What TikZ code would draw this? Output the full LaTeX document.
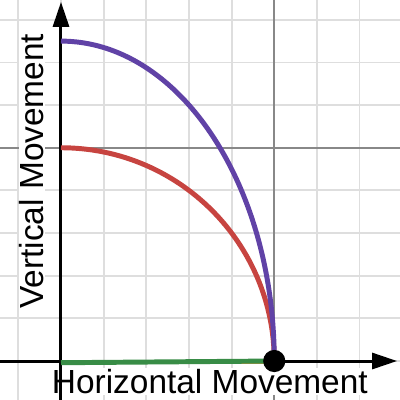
\documentclass[tikz,border=0pt]{standalone}
\usepackage{fontspec}
\setmainfont{Liberation Sans}
\usetikzlibrary{arrows.meta, positioning}
\definecolor{GridGray}{RGB}{222, 222, 222}
\definecolor{MajorGray}{RGB}{136, 136, 136}
\definecolor{CurvePurple}{RGB}{96, 66, 166}
\definecolor{CurveRed}{RGB}{199, 68, 64}
\definecolor{LineGreen}{RGB}{56, 140, 70}
\definecolor{LineOrange}{RGB}{240, 150, 60}

\begin{document}
\begin{tikzpicture}[
        x=1cm, y=1cm,
        minorgrid/.style={GridGray, line width=1.2pt},
        majorgrid/.style={MajorGray, line width=1.2pt},
        axis/.style={line width=2pt, -{Triangle[length=16.6pt, width=10.6pt]}},
        curve/.style={line width=3.3pt},
        axislbl/.style={font=\fontsize{22.3}{26}\selectfont, fill=white, inner sep=0.8pt, anchor=base}
    ]
        \useasboundingbox (-1.430,-0.914) rectangle (7.948,8.464);
        \fill[white] (-1.430,-0.914) rectangle (7.948,8.464);

        % grid
        \foreach \i in {-1,...,7}
            \draw[minorgrid] (\i,-0.914) -- (\i,8.464);
        \foreach \j in {0,...,8}
            \draw[minorgrid] (-1.430,\j) -- (7.948,\j);
        \draw[majorgrid] (5,-0.914) -- (5,8.464);
        \draw[majorgrid] (-1.430,5) -- (7.948,5);

        % labels
        \node[axislbl] (hlbl) at (3.49,-0.75) {Horizontal Movement};
        \node[axislbl, rotate=90] (vlbl) at (-0.40,4.45) {Vertical Movement};

        % axes
        \coordinate (xstart) at (-1.430,0);
        \coordinate (xend) at (7.88,0);
        \coordinate (ystart) at (0,-0.914);
        \coordinate (yend) at (0,8.42);
        \draw[axis] (xstart) -- (xend);
        \draw[axis] (ystart) -- (yend);

        % paths
        \coordinate (redtop) at (0,5);
        \coordinate (purpletop) at (0,7.5);
        \coordinate (landing) at (5,0);
        \draw[LineOrange, line width=2pt] (0,-0.03) -- (5,-0.03);
        \draw[LineGreen, curve] (0,-0.04) -- (landing);
        \draw[CurveRed, curve] (redtop) arc[start angle=90, end angle=0, radius=5];
        \draw[CurvePurple, curve] (purpletop) arc[start angle=90, end angle=0, x radius=5, y radius=7.5];
        \node[circle, fill=black, minimum size=0.52cm, inner sep=0pt] (hit) at (landing) {};
    \end{tikzpicture}
\end{document}
